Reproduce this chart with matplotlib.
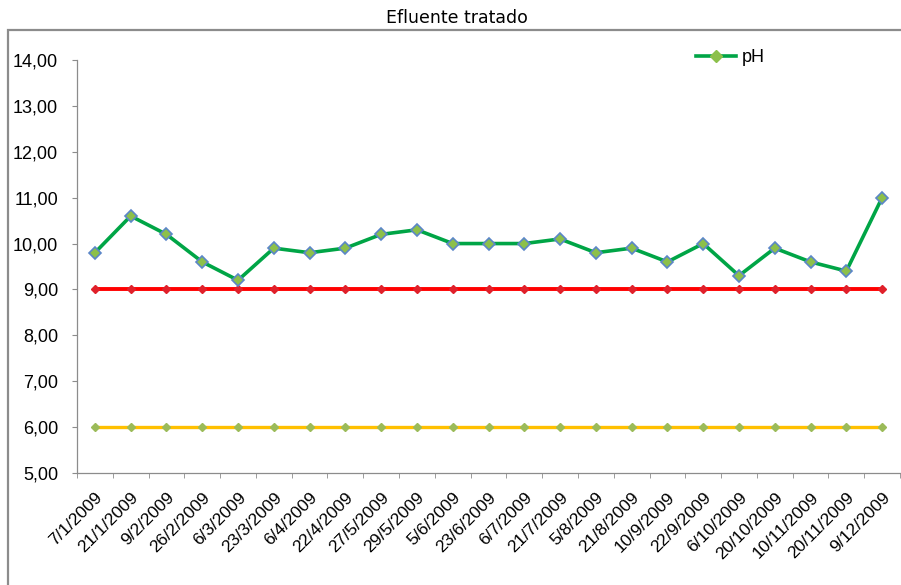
import matplotlib.pyplot as plt
from matplotlib.patches import Rectangle
from matplotlib.lines import Line2D

# sampling dates (category axis) and pH readings
dates = [
    "7/1/2009", "21/1/2009", "9/2/2009", "26/2/2009", "6/3/2009", "23/3/2009",
    "6/4/2009", "22/4/2009", "27/5/2009", "29/5/2009", "5/6/2009", "23/6/2009",
    "6/7/2009", "21/7/2009", "5/8/2009", "21/8/2009", "10/9/2009", "22/9/2009",
    "6/10/2009", "20/10/2009", "10/11/2009", "20/11/2009", "9/12/2009",
]
ph_values = [
    9.8, 10.6, 10.2, 9.6, 9.2, 9.9, 9.8, 9.9, 10.2, 10.3, 10.0, 10.0,
    10.0, 10.1, 9.8, 9.9, 9.6, 10.0, 9.3, 9.9, 9.6, 9.4, 11.0,
]
upper_limit = [9.0] * len(dates)
lower_limit = [6.0] * len(dates)
y_ticks = [5, 6, 7, 8, 9, 10, 11, 12, 13, 14]

W, H = 901, 585
fig = plt.figure(figsize=(W / 100, H / 100), dpi=100)
plt.rcParams["font.family"] = ["Liberation Sans", "DejaVu Sans"]

# outer chart-area border (cropped at right and bottom in the original)
fig.patches.append(Rectangle((8 / W, -0.1), 1.2, 1.1 - 30 / H,
                             transform=fig.transFigure, fill=False,
                             edgecolor="#8c8c8c", linewidth=1.6))

fig.text(457 / W, 1 - 18 / H, "Efluente tratado", ha="center", va="center",
         fontsize=12.5, family=["DejaVu Sans"])

ax = fig.add_axes([77 / W, 1 - 473 / H, (900 - 77) / W, (473 - 60) / H])
x = list(range(len(dates)))

ax.plot(x, lower_limit, color="#ffc000", linewidth=2.4, marker="D",
        markersize=4, markerfacecolor="#9bbb59", markeredgecolor="#9bbb59",
        zorder=2)
ax.plot(x, upper_limit, color="#ff0000", linewidth=2.8, marker="D",
        markersize=4, markerfacecolor="#e0202a", markeredgecolor="#e0202a",
        zorder=2)
ax.plot(x, ph_values, color="#00a546", linewidth=2.6, marker="D",
        markersize=6, markerfacecolor="#8cc04a", markeredgecolor="#5b86c8",
        markeredgewidth=1.2, zorder=3)

ax.set_xlim(-0.5, len(dates) - 0.5)
ax.set_ylim(5, 14)
ax.set_yticks(y_ticks)
ax.set_yticklabels([f"{v:.2f}".replace(".", ",") for v in y_ticks],
                   fontsize=13)

ax.set_xticks(x)
ax.set_xticklabels(dates, rotation=45, ha="right", rotation_mode="anchor",
                   fontsize=12.5)
ax.set_xticks([i - 0.5 for i in range(len(dates) + 1)], minor=True)
ax.tick_params(axis="x", which="major", length=0, pad=12)
ax.tick_params(axis="x", which="minor", length=3.5, color="#8c8c8c")
ax.tick_params(axis="y", length=3.5, color="#8c8c8c", pad=10)

for side in ("top", "right"):
    ax.spines[side].set_visible(False)
for side in ("left", "bottom"):
    ax.spines[side].set_color("#8c8c8c")
    ax.spines[side].set_linewidth(0.9)

handle = Line2D([], [], color="#00a546", linewidth=2.6, marker="D",
                markersize=6, markerfacecolor="#8cc04a",
                markeredgecolor="#8cc04a")
ax.legend([handle], ["pH"], loc="upper left",
          bbox_to_anchor=((680 - 77) / (900 - 77), 1.065), frameon=False,
          fontsize=13, handlelength=2.2, handletextpad=0.3)

fig.savefig("out.png", dpi=100)
